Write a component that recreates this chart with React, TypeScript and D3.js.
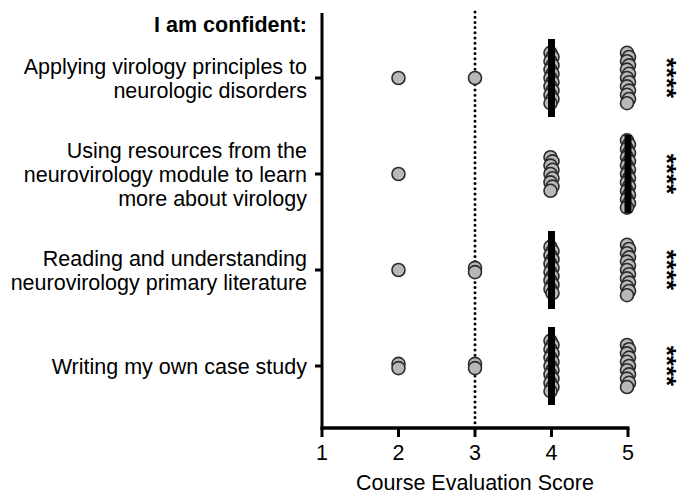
import { scaleLinear, scalePoint } from 'd3'

const items = [
  ['Applying virology principles to', 'neurologic disorders'],
  ['Using resources from the', 'neurovirology module to learn', 'more about virology'],
  ['Reading and understanding', 'neurovirology primary literature'],
  ['Writing my own case study'],
]
const itemKeys = ['applying', 'resources', 'literature', 'caseStudy']
const scores = [2, 3, 4, 5]
// number of students giving each score (2, 3, 4, 5), per item
const counts2 = [1, 1, 1, 2]
const counts3 = [1, 0, 2, 2]
const counts4 = [13, 9, 12, 13]
const counts5 = [13, 17, 13, 11]
const medians = [4, 5, 4, 4]
const significance = ['****', '****', '****', '****']
const xTicks = [1, 2, 3, 4, 5]
const neutralScore = 3

export default function App() {
  const W = 690
  const H = 504
  const axisX = 322
  const axisY = 428
  const x = scaleLinear().domain([1, 5]).range([axisX, 628])
  const y = scalePoint<string>().domain(itemKeys).range([78, 366])
  const step = 4.2
  const r = 6.5
  const font = 'Liberation Sans, Arial, Helvetica, sans-serif'
  const lineH = 24

  const points: { key: string; cx: number; cy: number }[] = []
  itemKeys.forEach((k, i) => {
    const cs = [counts2[i], counts3[i], counts4[i], counts5[i]]
    scores.forEach((s, si) => {
      const n = cs[si]
      for (let j = 0; j < n; j++) {
        const off = (j - (n - 1) / 2) * step
        const jitter = n > 2 ? (j % 2 === 0 ? -1 : 1) : 0
        points.push({ key: `${k}-${s}-${j}`, cx: x(s) + jitter, cy: (y(k) ?? 0) + off })
      }
    })
  })

  return (
    <svg width={W} height={H} style={{ position: 'absolute', left: 0, top: 0, background: '#fff' }} fontFamily={font}>
      <text x={307} y={32} textAnchor="end" fontSize={21.5} fontWeight="bold">
        I am confident:
      </text>
      {/* neutral reference line */}
      <line
        x1={x(neutralScore)}
        x2={x(neutralScore)}
        y1={12}
        y2={axisY}
        stroke="#000"
        strokeWidth={3}
        strokeDasharray="0 5.2"
        strokeLinecap="round"
      />
      {/* category labels + ticks */}
      {itemKeys.map((k, i) => {
        const cy = y(k) ?? 0
        const lines = items[i]
        const first = cy - ((lines.length - 1) * lineH) / 2
        return (
          <g key={k}>
            <line x1={315} x2={axisX} y1={cy} y2={cy} stroke="#000" strokeWidth={3} />
            <text textAnchor="end" fontSize={21.5} fill="#000">
              {lines.map((l, li) => (
                <tspan key={li} x={307} y={first + li * lineH} dy="0.36em">
                  {l}
                </tspan>
              ))}
            </text>
            <text
              x={672}
              y={cy}
              fontSize={26}
              fontWeight="bold"
              textAnchor="middle"
              dominantBaseline="central"
              transform={`rotate(90, 672, ${cy})`}
              dy="0.2em"
            >
              {significance[i]}
            </text>
          </g>
        )
      })}
      {points.map((p) => (
        <circle key={p.key} cx={p.cx} cy={p.cy} r={r} fill="#b8b8b8" stroke="#2a2a2a" strokeWidth={1.6} />
      ))}
      {itemKeys.map((k, i) => (
        <rect key={k} x={x(medians[i]) - 3.5} y={(y(k) ?? 0) - 39} width={7} height={78} fill="#000" />
      ))}
      {/* axes */}
      <line x1={axisX} x2={axisX} y1={13} y2={axisY + 1.5} stroke="#000" strokeWidth={3} />
      <line x1={axisX - 1.5} x2={x(5) + 1.5} y1={axisY} y2={axisY} stroke="#000" strokeWidth={3.5} />
      {xTicks.map((t) => (
        <g key={t}>
          <line x1={x(t)} x2={x(t)} y1={axisY} y2={axisY + 9} stroke="#000" strokeWidth={3} />
          <text x={x(t)} y={460} textAnchor="middle" fontSize={21.5}>
            {t}
          </text>
        </g>
      ))}
      <text x={(x(1) + x(5)) / 2} y={490} textAnchor="middle" fontSize={21.5}>
        Course Evaluation Score
      </text>
    </svg>
  )
}
